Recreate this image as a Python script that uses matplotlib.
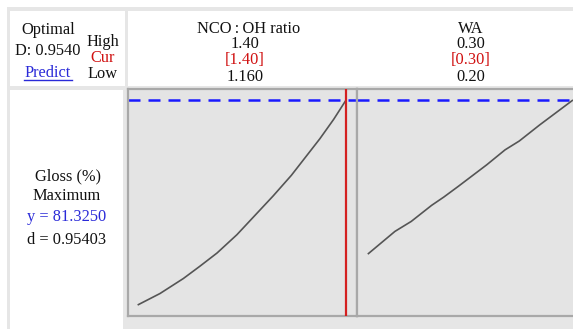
import matplotlib
matplotlib.use("Agg")
import matplotlib.pyplot as plt
from matplotlib.patches import Rectangle
from matplotlib.lines import Line2D

# factor 1: NCO:OH ratio -> Gloss (%)
nco_ratio = [1.160, 1.185, 1.212, 1.231, 1.251, 1.274, 1.301, 1.316, 1.337, 1.349, 1.370, 1.386, 1.400]
gloss_nco = [44.5, 46.5, 49.2, 51.4, 53.8, 57.1, 61.6, 64.1, 67.8, 70.2, 74.4, 77.9, 81.3]

# factor 2: WA -> Gloss (%)
wa = [0.200, 0.213, 0.221, 0.231, 0.237, 0.244, 0.258, 0.267, 0.274, 0.284, 0.300]
gloss_wa = [53.7, 57.7, 59.5, 62.4, 63.9, 65.8, 69.7, 72.4, 74.0, 76.9, 81.3]

factor_names = ["NCO\u2009:\u2009OH ratio", "WA"]
high_labels = ["1.40", "0.30"]
cur_labels = ["[1.40]", "[0.30]"]
low_labels = ["1.160", "0.20"]
cur_values = [1.40, 0.30]
y_opt = 81.325

W, H = 573, 329
FONT = ["Liberation Serif", "DejaVu Serif"]
FS = 11.8


def fx(x):
    return x / W


def fy(y):
    return 1 - y / H


def box(fig, x0, y0, x1, y1, color):
    fig.patches.append(Rectangle((fx(x0), fy(y1)), (x1 - x0) / W, (y1 - y0) / H,
                                 transform=fig.transFigure, facecolor=color,
                                 edgecolor="none", zorder=-10))


def txt(fig, x, y, s, color="#111111", size=FS):
    fig.text(fx(x), fy(y), s, ha="center", va="center", color=color,
             fontsize=size, family=FONT)


fig = plt.figure(figsize=(W / 100, H / 100), dpi=100)
fig.patch.set_facecolor("white")

# grid frame and white cells
box(fig, 7, 7, 573, 329, "#e6e6e6")
box(fig, 10, 11, 125, 86, "white")
box(fig, 128, 11, 573, 86, "white")
box(fig, 10, 90, 123, 329, "white")

# header, left cell
txt(fig, 48, 30, "Optimal")
txt(fig, 48, 51, "D: 0.9540")
txt(fig, 48, 73, "Predict", color="#2a2ad8")
fig.lines.append(Line2D([fx(24), fx(72)], [fy(80), fy(80)], transform=fig.transFigure,
                        color="#2a2ad8", lw=1))
txt(fig, 103, 42, "High")
txt(fig, 103, 58, "Cur", color="#d01010")
txt(fig, 103, 74, "Low")

# response cell
txt(fig, 68, 176, "Gloss (%)")
txt(fig, 67, 196, "Maximum")
txt(fig, 67, 217, "y = 81.3250", color="#2a2ad8")
txt(fig, 67, 240, "d = 0.95403")

# factor panels
xs = [nco_ratio, wa]
ys = [gloss_nco, gloss_wa]
xlims = [(1.148, 1.413), (0.1944, 0.3067)]
panel_left = [128, 357]
title_x = [249, 471]
num_x = [245, 471]
pw, top, bottom = 229, 89, 316

for i in range(2):
    ax = fig.add_axes([fx(panel_left[i]), fy(bottom), pw / W, (bottom - top) / H])
    ax.set_facecolor("#e4e4e4")
    ax.plot(xs[i], ys[i], color="#555555", lw=1.2, zorder=3)
    ax.axhline(y_opt, color="#1a1aff", lw=1.8, dashes=(4.8, 3.2), zorder=2)
    if i == 0:
        ax.axvline(cur_values[i], color="#d42020", lw=1.6, zorder=4)
    ax.set_xlim(*xlims[i])
    ax.set_ylim(42.45, 83.37)
    ax.set_xticks([])
    ax.set_yticks([])
    for sp in ax.spines.values():
        sp.set_color("#a8a8a8")
        sp.set_linewidth(1.6)

    txt(fig, title_x[i], 29, factor_names[i])
    txt(fig, num_x[i], 44, high_labels[i])
    txt(fig, num_x[i], 60, cur_labels[i], color="#d01010")
    txt(fig, num_x[i], 77, low_labels[i])

fig.savefig("out.png", dpi=100)
